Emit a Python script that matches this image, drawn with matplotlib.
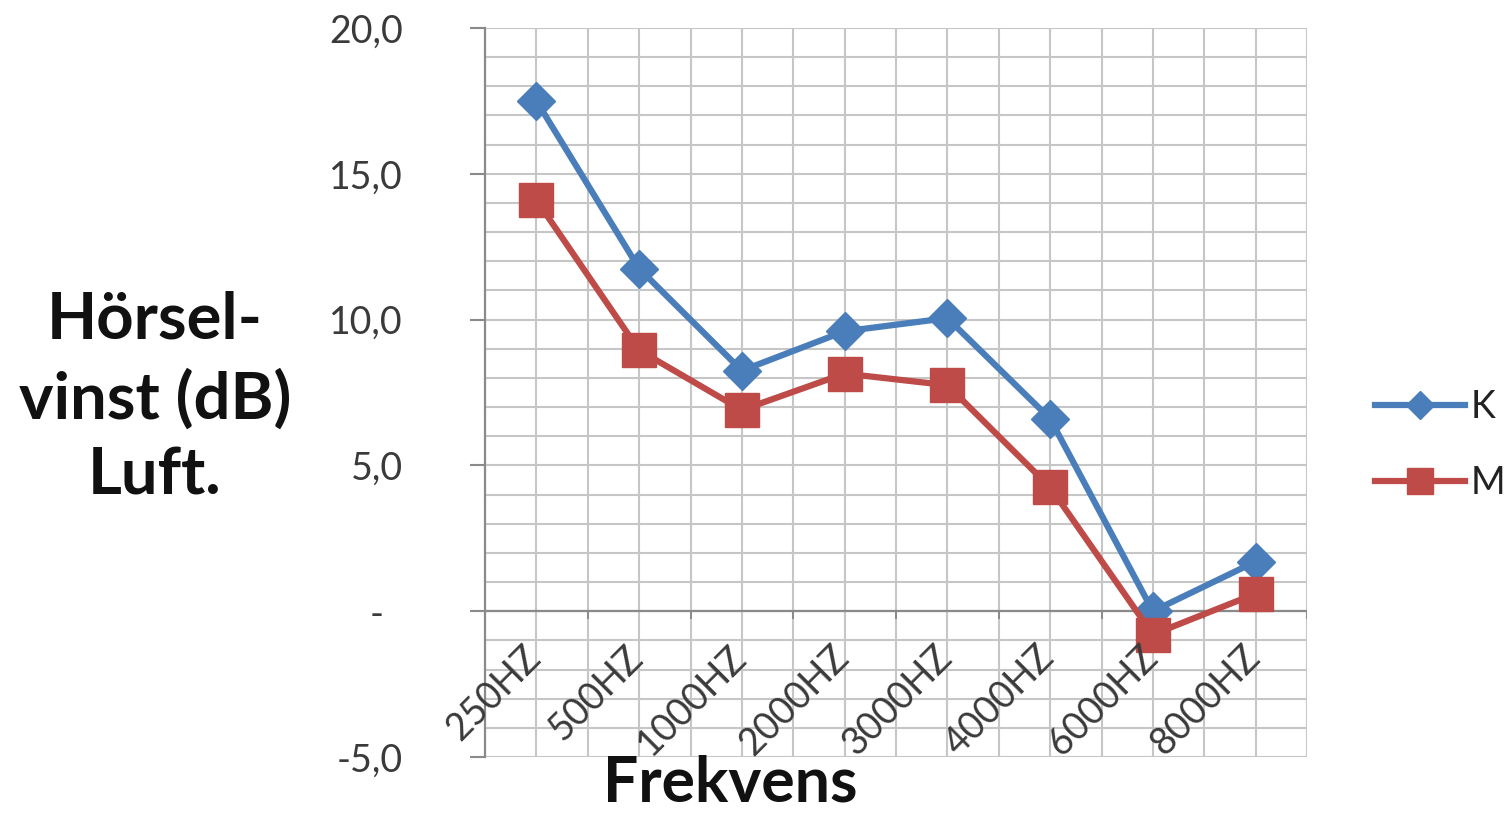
import matplotlib
matplotlib.use("Agg")
import matplotlib.pyplot as plt
import numpy as np

categories = ["250HZ", "500HZ", "1000HZ", "2000HZ", "3000HZ", "4000HZ", "6000HZ", "8000HZ"]
k_values = [17.5, 11.75, 8.25, 9.6, 10.05, 6.6, 0.0, 1.7]
m_values = [14.1, 8.95, 6.9, 8.15, 7.75, 4.25, -0.8, 0.6]
ytick_values = [-5, 0, 5, 10, 15, 20]
ytick_labels = ["-5,0", "-  ", "5,0", "10,0", "15,0", "20,0"]

BLUE = "#4A7EBB"
RED = "#BE4B48"
FONT = "Lato"
TXT = "#3a3a3a"

fig = plt.figure(figsize=(15.12, 8.14), dpi=100)
ax = fig.add_axes([485/1512, 1-757/814, (1307-485)/1512, (757-28)/814])

x = np.arange(len(categories))
ax.set_xlim(-0.5, len(categories) - 0.5)
ax.set_ylim(-5, 20)

# grid
for gx in np.arange(-0.5, len(categories), 0.5):
    ax.axvline(gx, color="#c6c6c6", lw=1.5, zorder=0)
for gy in range(-5, 21):
    ax.axhline(gy, color="#c6c6c6", lw=1.5, zorder=0)
ax.axhline(0, color="#8a8a8a", lw=1.6, zorder=1)
for gx in np.arange(-0.5, len(categories), 1.0):
    ax.plot([gx, gx], [0, -0.25], color="#8a8a8a", lw=1.4, zorder=1)

for s in ["top", "right", "bottom"]:
    ax.spines[s].set_visible(False)
ax.spines["left"].set_color("#8a8a8a")
ax.spines["left"].set_linewidth(1.6)

ax.set_xticks([])
ax.set_yticks(ytick_values)
ax.set_yticklabels(ytick_labels, fontsize=27, family=FONT, color=TXT)
ax.tick_params(axis="y", length=11, width=1.5, color="#8a8a8a", pad=48)

ax.plot(x, k_values, color=BLUE, lw=4.5, marker="D", markersize=19, label="K", zorder=3)
ax.plot(x, m_values, color=RED, lw=4.5, marker="s", markersize=25, label="M", zorder=3)

for i, c in enumerate(categories):
    ax.text(i + 0.11, -0.95, c, rotation=45, ha="right", va="top",
            fontsize=27, family=FONT, color=TXT)

leg = ax.legend(loc="center left", bbox_to_anchor=(1.083, 0.428), frameon=False,
                prop={"family": FONT, "size": 27},
                handlelength=2.4, labelspacing=1.05, markerscale=0.75, handletextpad=0.15,
                borderaxespad=0, borderpad=0)
for t in leg.get_texts():
    t.set_color("#222222")

fig.text(155/1512, 1-398/814, "Hörsel-\nvinst (dB)\nLuft.", ha="center", va="center",
         fontsize=47, fontweight="bold", family=FONT, linespacing=1.35, color="#111111")
fig.text(730/1512, 1-784/814, "Frekvens", ha="center", va="center",
         fontsize=45, fontweight="bold", family=FONT, color="#111111")

fig.savefig("out.png", dpi=100)
